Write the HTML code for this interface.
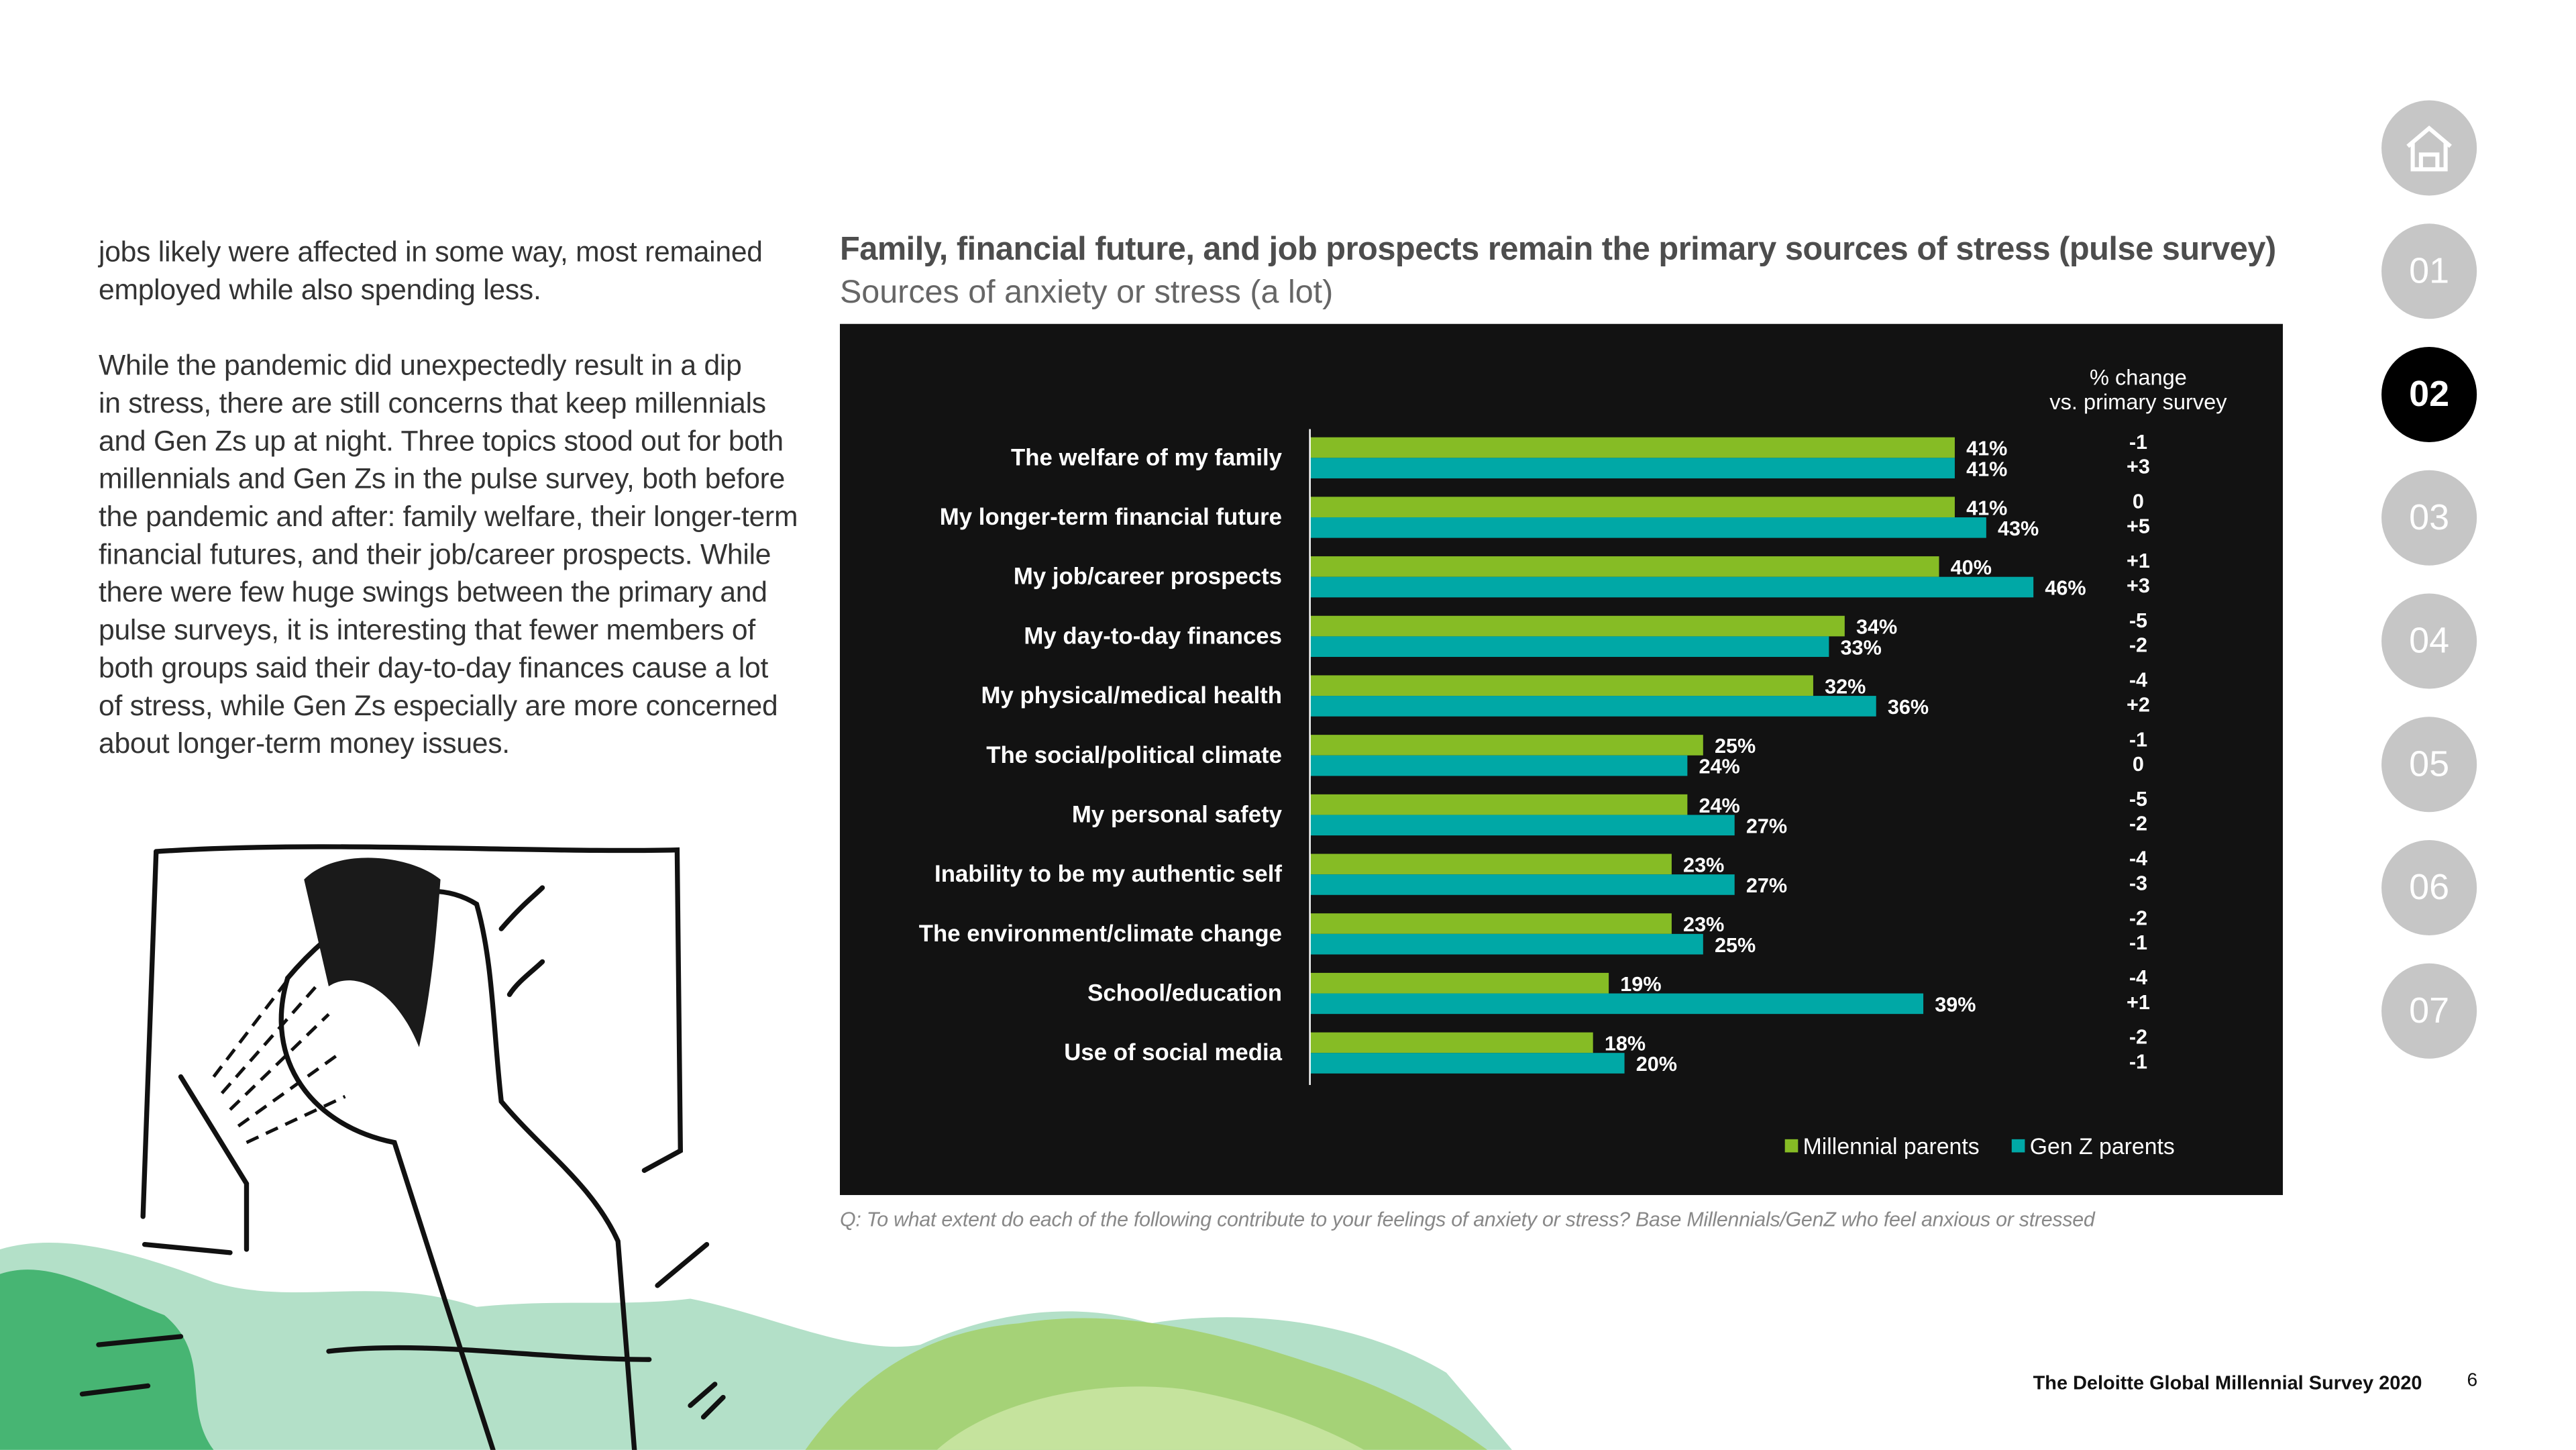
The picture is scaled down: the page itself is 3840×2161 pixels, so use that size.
<!DOCTYPE html>
<html><head><meta charset="utf-8">
<style>
html,body{margin:0;padding:0;background:#fff;}
body{width:3840px;height:2160px;overflow:hidden;position:relative;}
#wrap{position:absolute;left:0;top:0;width:1568px;height:882px;transform:scale(2.45);transform-origin:0 0;font-family:"Liberation Sans",sans-serif;}
.abs{position:absolute;}
#body-text{left:60px;top:142px;font-size:17.4px;line-height:23px;color:#333;white-space:nowrap;letter-spacing:-0.1px;}
#body-text p{margin:0 0 23px 0;}
.nav{position:absolute;left:1449px;width:58px;height:58px;border-radius:50%;background:#c6c6c6;color:#fff;font-size:22px;text-align:center;line-height:58px;}
</style></head><body>
<div id="wrap">
<div id="body-text" class="abs">
<p>jobs likely were affected in some way, most remained<br>employed while also spending less.</p>
<p>While the pandemic did unexpectedly result in a dip<br>in stress, there are still concerns that keep millennials<br>and Gen Zs up at night. Three topics stood out for both<br>millennials and Gen Zs in the pulse survey, both before<br>the pandemic and after: family welfare, their longer-term<br>financial futures, and their job/career prospects. While<br>there were few huge swings between the primary and<br>pulse surveys, it is interesting that fewer members of<br>both groups said their day-to-day finances cause a lot<br>of stress, while Gen Zs especially are more concerned<br>about longer-term money issues.</p>
</div>

<svg class="abs" style="left:0;top:0" width="1568" height="882">
<g>
<path d="M0 760 C40 748 90 765 130 780 C180 795 230 775 290 795 C340 790 380 795 420 790 C470 800 520 825 560 818 C600 800 650 790 700 805 C760 795 830 805 880 835 L920 882 L0 882Z" fill="#b3e0c8"/>
<path d="M0 775 C30 765 60 785 100 800 C130 825 110 855 130 882 L0 882Z" fill="#47b573"/>
<path d="M490 882 C520 840 560 810 620 805 C680 795 740 810 800 830 C840 842 875 860 905 882Z" fill="#a5d277"/>
<path d="M570 882 C600 855 660 838 720 845 C760 852 800 865 830 882Z" fill="#c5e39d"/>
</g>
<g fill="none" stroke="#111" stroke-width="3" stroke-linecap="round">
<path d="M95 518 C200 511 320 519 412 517 L414 700 L392 712"/>
<path d="M95 518 L87 740"/>
<path d="M175 595 C200 565 250 525 290 550 C300 585 300 625 305 670 C330 700 360 720 376 755 L386 882"/>
<path d="M175 595 C160 645 190 685 240 695 L280 820 L300 882"/>
<path d="M110 655 L150 720 L150 760"/>
<path d="M88 757 L140 762 M50 848 L90 843 M60 818 L110 813"/>
<path d="M420 855 L435 842 M428 862 L440 850"/>
<path d="M400 782 L430 757"/>
<path d="M305 565 C318 550 325 545 330 540 M310 605 C315 597 325 590 330 585"/>
<path d="M200 822 C260 815 330 827 395 827"/>
</g>
<path d="M185 535 C205 515 250 520 268 535 C265 575 262 605 255 637 C240 600 215 590 200 600Z" fill="#1a1a1a"/>
<g stroke="#111" stroke-width="2" stroke-dasharray="8 5">
<line x1="130" y1="655" x2="185" y2="583"/><line x1="135" y1="665" x2="195" y2="597"/><line x1="140" y1="675" x2="200" y2="617"/><line x1="145" y1="685" x2="205" y2="642"/><line x1="150" y1="695" x2="210" y2="667"/>
</g>
</svg>

<div class="abs" style="left:511px;top:141px;font-size:19.9px;font-weight:bold;color:#4d4d4d;letter-spacing:-0.2px;white-space:nowrap">Family, financial future, and job prospects remain the primary sources of stress (pulse survey)</div>
<div class="abs" style="left:511px;top:167px;font-size:19.8px;color:#666;white-space:nowrap">Sources of anxiety or stress (a lot)</div>

<svg id="chart" class="abs" style="left:511px;top:197px" width="878" height="530"></svg>

<div class="abs" style="left:511px;top:735px;font-size:12.4px;font-style:italic;color:#888;white-space:nowrap;letter-spacing:-0.1px">Q: To what extent do each of the following contribute to your feelings of anxiety or stress? Base Millennials/GenZ who feel anxious or stressed</div>

<div class="nav" style="top:61px"><svg width="58" height="58"><path d="M16 28 L29 17 L42 28 M19 26 V42 H39 V26 M24 42 V33 H34 V42" fill="none" stroke="#fff" stroke-width="2.5"/></svg></div>
<div class="nav" style="top:136px">01</div>
<div class="nav" style="top:211px;background:#000;font-weight:bold">02</div>
<div class="nav" style="top:286px">03</div>
<div class="nav" style="top:361px">04</div>
<div class="nav" style="top:436px">05</div>
<div class="nav" style="top:511px">06</div>
<div class="nav" style="top:586px">07</div>

<div class="abs" style="left:1237px;top:834px;font-size:11.8px;font-weight:bold;color:#111;white-space:nowrap">The Deloitte Global Millennial Survey 2020</div>
<div class="abs" style="left:1501px;top:834px;font-size:11.5px;color:#111">6</div>
</div>

<script>
const categories = ["The welfare of my family","My longer-term financial future","My job/career prospects","My day-to-day finances","My physical/medical health","The social/political climate","My personal safety","Inability to be my authentic self","The environment/climate change","School/education","Use of social media"];
const millennialValues = [41,41,40,34,32,25,24,23,23,19,18];
const genzValues = [41,43,46,33,36,24,27,27,25,39,20];
const millennialChange = ["-1","0","+1","-5","-4","-1","-5","-4","-2","-4","-2"];
const genzChange = ["+3","+5","+3","-2","+2","0","-2","-3","-1","+1","-1"];

const NS="http://www.w3.org/2000/svg";
const svg=document.getElementById('chart');
function mk(tag,attrs,text){const e=document.createElementNS(NS,tag);for(const k in attrs)e.setAttribute(k,attrs[k]);if(text!==undefined)e.textContent=text;svg.appendChild(e);return e;}
const x0=286, pxPer=9.57;
function xs(v){return x0+v*pxPer;}
function ys(i){return 69+i*36.2;}
const bh=12.5;
const bg=mk('rect',{x:0,y:0,width:878,height:530,fill:'#121212'});


const font='"Liberation Sans", sans-serif';
const h1=mk('text',{x:790,y:37,fill:'#fff','font-size':13.3,'text-anchor':'middle','font-family':font},'% change');


const h2=mk('text',{x:790,y:52,fill:'#fff','font-size':13.3,'text-anchor':'middle','font-family':font},'vs. primary survey');


categories.forEach((c,i)=>{
  const y=ys(i);
  const lab=mk('text',{x:269,y:y+17,fill:'#fff','font-size':14.2,'font-weight':'bold','text-anchor':'end','font-family':font},c);
  
  
  const b1=mk('rect',{x:x0,y:y,width:xs(millennialValues[i])-x0,height:bh,fill:'#86bc25'});
  
  
  const b2=mk('rect',{x:x0,y:y+bh,width:xs(genzValues[i])-x0,height:bh,fill:'#00a8a6'});
  
  
  const t1=mk('text',{x:xs(millennialValues[i])+7,y:y+11,fill:'#fff','font-size':12.5,'font-weight':'bold','font-family':font},millennialValues[i]+'%');
  
  
  const t2=mk('text',{x:xs(genzValues[i])+7,y:y+bh+11,fill:'#fff','font-size':12.5,'font-weight':'bold','font-family':font},genzValues[i]+'%');
  
  
  const c1=mk('text',{x:790,y:y+7,fill:'#fff','font-size':12.5,'font-weight':'bold','text-anchor':'middle','font-family':font},millennialChange[i]);
  
  
  const c2=mk('text',{x:790,y:y+22,fill:'#fff','font-size':12.5,'font-weight':'bold','text-anchor':'middle','font-family':font},genzChange[i]);
  
  
});
const ax=mk('line',{x1:x0,y1:ys(0)-5,x2:x0,y2:ys(categories.length-1)+2*bh+7,stroke:'#fff','stroke-width':1});


const l1=mk('rect',{x:575,y:496,width:8,height:8,fill:'#86bc25'});


const lt1=mk('text',{x:586,y:505,fill:'#fff','font-size':13.8,'font-family':font},'Millennial parents');


const l2=mk('rect',{x:713,y:496,width:8,height:8,fill:'#00a8a6'});


const lt2=mk('text',{x:724,y:505,fill:'#fff','font-size':13.8,'font-family':font},'Gen Z parents');


</script>
</body></html>
